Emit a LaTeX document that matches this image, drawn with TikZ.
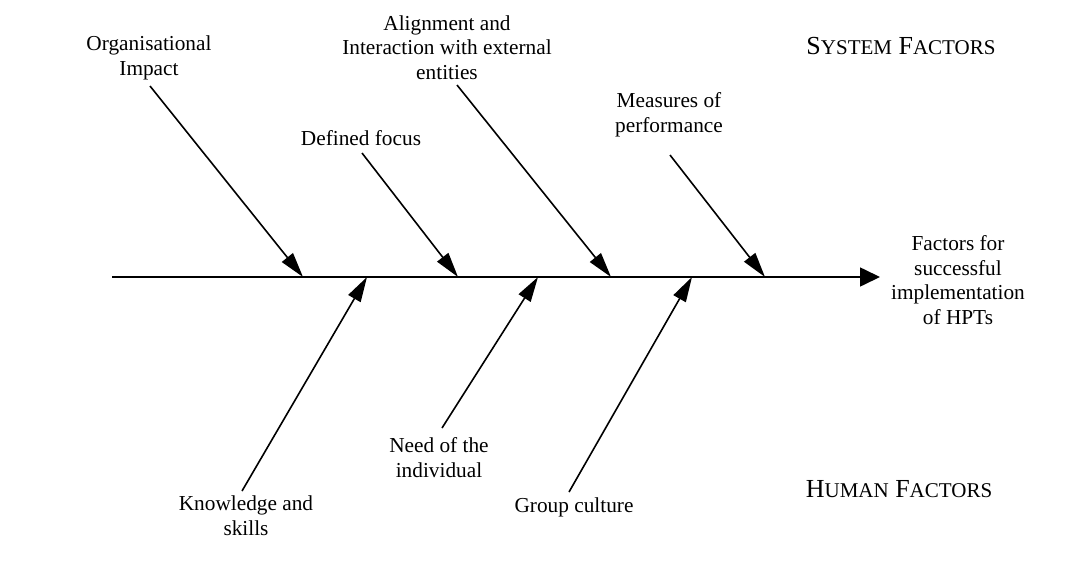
\documentclass[tikz,border=0pt]{standalone}
\usepackage{fontspec}
\setmainfont{Liberation Serif}
\usetikzlibrary{arrows.meta}
\tikzset{
  lbl/.style={inner sep=0pt, align=center, anchor=base, font=\fontsize{21.3}{24.5}\selectfont},
  hdr/.style={inner sep=0pt, anchor=base},
  branch/.style={line width=1.6pt, -{Triangle[length=25pt,width=14pt]}},
  spine/.style={line width=1.6pt, -{Triangle[length=20pt,width=19pt]}}
}
\newcommand{\bigsc}[1]{{\fontsize{26}{30}\selectfont #1}}
\newcommand{\smsc}[1]{{\fontsize{21}{30}\selectfont #1}}
\begin{document}
\begin{tikzpicture}[x=1pt,y=-1pt]
\useasboundingbox (0,0) rectangle (1087,581);
% spine
\coordinate (s0) at (112,277);
\coordinate (s1) at (880,277);
\draw[spine] (s0) -- (s1);
% tips on the spine
\coordinate (t1) at (303,277);
\coordinate (t2) at (458,277);
\coordinate (t3) at (611,277);
\coordinate (t4) at (765,277);
\coordinate (b1) at (367,277);
\coordinate (b2) at (538,277);
\coordinate (b3) at (692,277);
% branch starts
\coordinate (o1) at (150,86);
\coordinate (o2) at (362,153);
\coordinate (o3) at (457,85);
\coordinate (o4) at (670,155);
\coordinate (u1) at (242,491);
\coordinate (u2) at (442,428);
\coordinate (u3) at (569,492);
% labels (anchor = baseline of last line)
\node[lbl] (l1) at (149,75) {Organisational\\Impact};
\node[lbl] (l2) at (361,145) {Defined focus};
\node[lbl] (l3) at (447,79) {Alignment and\\Interaction with external\\entities};
\node[lbl] (l4) at (669,132) {Measures of\\performance};
\node[lbl] (l5) at (246,535) {Knowledge and\\skills};
\node[lbl] (l6) at (439,477) {Need of the\\individual};
\node[lbl] (l7) at (574,512) {Group culture};
\node[lbl] (eff) at (958,324) {Factors for\\successful\\implementation\\of HPTs};
\node[hdr] (sys) at (901,54) {\bigsc{S}\smsc{YSTEM}\bigsc{ F}\smsc{ACTORS}};
\node[hdr] (hum) at (899,497) {\bigsc{H}\smsc{UMAN}\bigsc{ F}\smsc{ACTORS}};
% branches
\draw[branch] (o1) -- (t1);
\draw[branch] (o2) -- (t2);
\draw[branch] (o3) -- (t3);
\draw[branch] (o4) -- (t4);
\draw[branch] (u1) -- (b1);
\draw[branch] (u2) -- (b2);
\draw[branch] (u3) -- (b3);
\end{tikzpicture}
\end{document}
